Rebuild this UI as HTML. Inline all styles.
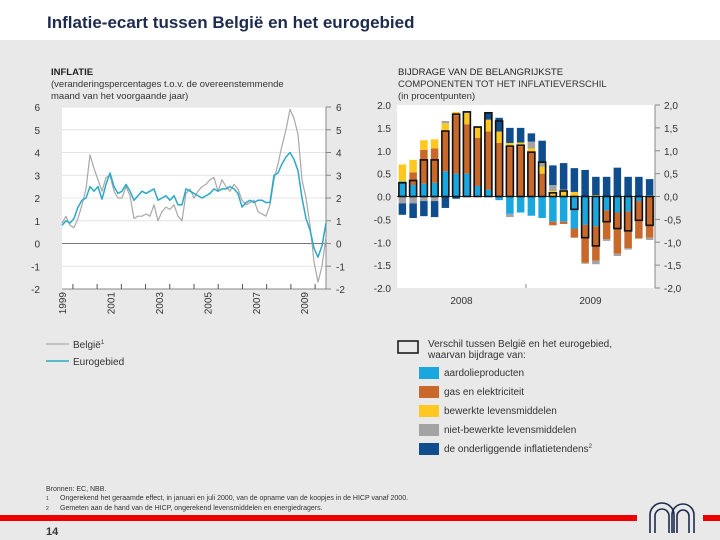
<!DOCTYPE html>
<html><head><meta charset="utf-8"><style>
body{margin:0;background:#fff;}
#root{position:relative;width:720px;height:540px;background:#e9e9e9;overflow:hidden;font-family:"Liberation Sans",sans-serif;}
svg text{font-family:"Liberation Sans",sans-serif;}
</style></head><body>
<div id="root">
<svg id="svg" width="720" height="540" viewBox="0 0 720 540">
<rect x="0" y="0" width="720" height="40" fill="#ffffff"/>
<text x="47" y="28" font-size="17" font-weight="bold" fill="#1c2b4e">Inflatie-ecart tussen België en het eurogebied</text>
<text x="51" y="75" font-size="9.5" font-weight="bold" fill="#222">INFLATIE</text>
<text x="51" y="87" font-size="9.5" fill="#333">(veranderingspercentages t.o.v. de overeenstemmende</text>
<text x="51" y="99" font-size="9.5" fill="#333">maand van het voorgaande jaar)</text>
<text x="398" y="75" font-size="9.5" fill="#222">BIJDRAGE VAN DE BELANGRIJKSTE</text>
<text x="398" y="87" font-size="9.5" fill="#333">COMPONENTEN TOT  HET INFLATIEVERSCHIL</text>
<text x="398" y="99" font-size="9.5" fill="#333">(in procentpunten)</text>
<g id="left"></g>
<g id="right"></g>
<g>
<line x1="46" y1="344" x2="69" y2="344" stroke="#aaa" stroke-width="1.3"/>
<text x="73" y="348" font-size="10" fill="#333">België<tspan font-size="6" dy="-4">1</tspan></text>
<line x1="46" y1="361" x2="69" y2="361" stroke="#2aa8c8" stroke-width="1.5"/>
<text x="73" y="365" font-size="10" fill="#333">Eurogebied</text>
</g>
<g>
<rect x="398" y="341" width="20" height="12" fill="none" stroke="#111" stroke-width="1.5"/>
<text x="428" y="347" font-size="10" fill="#333">Verschil tussen België en het eurogebied,</text>
<text x="428" y="358" font-size="10" fill="#333">waarvan bijdrage van:</text>
<rect x="419" y="367" width="20" height="12" fill="#1aa7e0"/>
<text x="444" y="376" font-size="10" fill="#333">aardolieproducten</text>
<rect x="419" y="386" width="20" height="12" fill="#c8682a"/>
<text x="444" y="395" font-size="10" fill="#333">gas en elektriciteit</text>
<rect x="419" y="405" width="20" height="12" fill="#ffc820"/>
<text x="444" y="414" font-size="10" fill="#333">bewerkte levensmiddelen</text>
<rect x="419" y="424" width="20" height="12" fill="#a3a3a3"/>
<text x="444" y="433" font-size="10" fill="#333">niet-bewerkte levensmiddelen</text>
<rect x="419" y="443" width="20" height="12" fill="#0f4d8c"/>
<text x="444" y="452" font-size="10" fill="#333">de onderliggende inflatietendens<tspan font-size="6" dy="-4">2</tspan></text>
</g>
<g fill="#333" font-size="7">
<text x="46" y="491">Bronnen:  EC, NBB.</text>
<text x="46" y="500" font-size="5">1</text>
<text x="60" y="500">Ongerekend het geraamde effect, in januari en juli 2000, van de opname van de koopjes in de HICP vanaf 2000.</text>
<text x="46" y="510" font-size="5">2</text>
<text x="60" y="510">Gemeten aan de hand van de HICP, ongerekend levensmiddelen en energiedragers.</text>
</g>
<rect x="0" y="515" width="637" height="6" fill="#ee0000"/>
<rect x="703" y="515" width="17" height="6" fill="#ee0000"/>
<g fill="none" stroke="#1c2b4e" stroke-width="1.6">
<path d="M650 533 V515 a12 12 0 0 1 24 0 V533"/>
<path d="M655 533 V516 a7 7 0 0 1 14 0 V533"/>
<path d="M672 533 V515 a11 11 0 0 1 22 0 V533"/>
<path d="M677 533 V516 a6 6 0 0 1 12 0 V533"/>
</g>
<text x="46" y="535" font-size="11" font-weight="bold" fill="#333">14</text>
</svg>
</div>
<script>
// ---- left chart data (bimonthly readings, Jan 1999 - late 2009) ----
const belgie = [0.9,1.2,0.8,0.7,1.1,1.7,2.4,3.9,3.3,2.8,2.3,2.9,3.0,2.3,2.0,2.0,2.5,2.1,1.1,1.2,1.2,1.3,1.2,1.7,1.0,1.4,1.6,1.5,1.7,1.2,1.0,2.2,2.4,2.0,2.3,2.5,2.6,2.8,2.9,2.3,2.8,2.5,2.3,2.6,2.4,1.9,1.7,1.8,1.9,1.4,1.3,1.2,1.7,2.8,3.5,4.3,5.0,5.9,5.5,4.8,2.8,2.0,0.8,-0.8,-1.7,-1.0,0.3];
const eurogebied = [0.8,1.0,0.9,1.1,1.6,1.9,2.0,2.5,2.3,2.5,1.95,2.6,3.1,2.5,2.2,2.3,2.6,2.3,1.9,2.1,2.3,2.2,2.3,2.4,1.9,2.0,2.1,1.9,2.1,1.7,1.7,2.4,2.3,2.2,2.1,2.0,2.1,2.2,2.4,2.3,2.4,2.4,2.5,2.4,2.2,1.6,1.8,1.9,1.8,1.9,1.9,1.8,1.8,3.0,3.1,3.5,3.8,4.0,3.7,3.2,2.0,1.1,0.6,-0.2,-0.6,-0.1,0.9];
const leftTicks = [-2,-1,0,1,2,3,4,5,6];
const yearLabels = ["1999","2001","2003","2005","2007","2009"];
const yearTicks = [1999,2000,2001,2002,2003,2004,2005,2006,2007,2008,2009];
// ---- right chart data (monthly, 2008-2009) ----
const months = ["2008-01","2008-02","2008-03","2008-04","2008-05","2008-06","2008-07","2008-08","2008-09","2008-10","2008-11","2008-12","2009-01","2009-02","2009-03","2009-04","2009-05","2009-06","2009-07","2009-08","2009-09","2009-10","2009-11","2009-12"];
const aardolie = [0.33,0.25,0.28,0.3,0.55,0.5,0.5,0.23,0.15,-0.08,-0.38,-0.35,-0.42,-0.47,-0.55,-0.55,-0.7,-0.62,-0.65,-0.3,-0.35,-0.33,-0.1,0.03];
const gasElek = [0,0.28,0.74,0.75,0.9,1.28,1.08,1.05,1.27,1.17,1.08,1.1,0.98,0.5,-0.08,-0.05,-0.2,-0.83,-0.75,-0.63,-0.9,-0.8,-0.82,-0.9];
const bewerkt = [0.37,0.27,0.21,0.2,0.15,0.07,0.24,0.22,0.26,0.25,0.09,0.08,0.07,0.15,0.12,0.12,0.1,0,0.03,0,0,0,0,0];
const onbewerkt = [-0.15,-0.15,-0.1,-0.1,0.05,0,0.03,0,0,0,-0.07,0,0.15,0.1,0.13,0.03,0,-0.02,-0.08,-0.04,-0.05,-0.03,0,-0.05];
const onderliggend = [-0.25,-0.32,-0.33,-0.35,-0.25,-0.05,0,0.02,0.16,0.3,0.33,0.32,0.18,0.47,0.43,0.58,0.52,0.58,0.4,0.43,0.63,0.43,0.43,0.35];
const verschil = [0.3,0.35,0.8,0.8,1.43,1.8,1.85,1.52,1.83,1.65,1.1,1.12,0.97,0.75,0.08,0.12,-0.28,-0.9,-1.08,-0.55,-0.7,-0.75,-0.52,-0.63];
const rightTicks = [-2,-1.5,-1,-0.5,0,0.5,1,1.5,2];
const rightYears = ["2008","2009"];

const NS="http://www.w3.org/2000/svg";
function mk(parent,tag,attrs){const e=document.createElementNS(NS,tag);for(const k in attrs)e.setAttribute(k,attrs[k]);parent.appendChild(e);return e;}

// ---- left chart ----
const L=document.getElementById('left');
const lx0=62,lx1=326,ly0=107,ly1=289;
const ly=v=>ly1-(v-(-2))/8*(ly1-ly0);
const lxi=i=>lx0+i*(lx1-lx0)/(belgie.length-1);
const lxYear=y=>lx0+(y-1999)*(lx1-lx0)/10.9;
const lbg=mk(L,'rect',{x:lx0,y:ly0,width:lx1-lx0,height:ly1-ly0,fill:'#fff'});


leftTicks.forEach(t=>{
  const g=mk(L,'line',{x1:lx0,x2:lx1,y1:ly(t),y2:ly(t),stroke:t===0?'#777':'#e4e4e4','stroke-width':1});
  
  
  const a=mk(L,'text',{x:40,y:ly(t)+4,'font-size':10,fill:'#333','text-anchor':'end'});a.textContent=t;
  
  
  const b=mk(L,'text',{x:336,y:ly(t)+4,'font-size':10,fill:'#333'});b.textContent=t;
  
  
  const tk=mk(L,'line',{x1:lx1,x2:lx1+5,y1:ly(t),y2:ly(t),stroke:'#888'});
  
  
});
const lax=mk(L,'line',{x1:lx0,x2:lx1,y1:ly1,y2:ly1,stroke:'#888'});


const lax2=mk(L,'line',{x1:lx1,x2:lx1,y1:ly0,y2:ly1,stroke:'#888'});


yearTicks.forEach(y=>{
  const t=mk(L,'line',{x1:lxYear(y+0.45),x2:lxYear(y+0.45),y1:ly1,y2:ly1-5,stroke:'#555'});
  
  
});
yearLabels.forEach(s=>{
  const x=lxYear(+s)+4;
  const t=mk(L,'text',{x:x,y:ly1+3,'font-size':10,fill:'#333','text-anchor':'end',transform:`rotate(-90 ${x} ${ly1+3})`});
  t.textContent=s;
  
  
});
function line(arr,color,w,name){
  const p=mk(L,'polyline',{points:arr.map((v,i)=>lxi(i)+','+ly(v)).join(' '),fill:'none',stroke:color,'stroke-width':w,'stroke-linejoin':'round'});
  
  
}
line(belgie,'#a8a8a8',1.2,'belgie-line');
line(eurogebied,'#2aa8c8',1.5,'eurogebied-line');

// ---- right chart ----
const R=document.getElementById('right');
const rx0=397,rx1=655,ry0=105,ry1=288;
const ry=v=>ry1-(v+2)/4*(ry1-ry0);
const slot=(rx1-rx0)/months.length;
const rbg=mk(R,'rect',{x:rx0,y:ry0,width:rx1-rx0,height:ry1-ry0,fill:'#fff'});


rightTicks.forEach(t=>{
  const s=t.toFixed(1);
  const a=mk(R,'text',{x:391,y:ry(t)+4,'font-size':10,fill:'#333','text-anchor':'end'});a.textContent=s;
  
  
  const b=mk(R,'text',{x:664,y:ry(t)+4,'font-size':10,fill:'#333'});b.textContent=s.replace('.',',');
  
  
  const tk=mk(R,'line',{x1:rx1,x2:rx1+5,y1:ry(t),y2:ry(t),stroke:'#888'});
  
  
});
const rax=mk(R,'line',{x1:rx1,x2:rx1,y1:ry0,y2:ry1,stroke:'#888'});


const rsep=mk(R,'line',{x1:rx0+12*slot,x2:rx0+12*slot,y1:ry1,y2:ry1-4,stroke:'#888'});


rightYears.forEach((s,i)=>{
  const t=mk(R,'text',{x:rx0+(6+12*i)*slot,y:ry1+16,'font-size':10,fill:'#333','text-anchor':'middle'});
  t.textContent=s;
  
  
});
const series=[[aardolie,'#1aa7e0','aardolie'],[gasElek,'#c8682a','gas'],[bewerkt,'#ffc820','bewerkt'],[onbewerkt,'#a3a3a3','onbewerkt'],[onderliggend,'#0f4d8c','onderliggend']];
months.forEach((m,i)=>{
  const cx=rx0+(i+0.5)*slot,bw=7.5;
  let pos=0,neg=0;
  series.forEach(([arr,col,nm])=>{
    const v=arr[i];if(!v)return;
    let a,b;
    if(v>0){a=pos;b=pos+v;pos=b;}else{a=neg;b=neg+v;neg=b;}
    const r=mk(R,'rect',{x:cx-bw/2,y:Math.min(ry(a),ry(b)),width:bw,height:Math.abs(ry(a)-ry(b)),fill:col});
    
    
  });
});
const zl=mk(R,'line',{x1:rx0,x2:rx1,y1:ry(0),y2:ry(0),stroke:'#333','stroke-width':1});


months.forEach((m,i)=>{
  const cx=rx0+(i+0.5)*slot,bw=7;
  const v=verschil[i];
  const r=mk(R,'rect',{x:cx-bw/2,y:Math.min(ry(0),ry(v)),width:bw,height:Math.max(1.5,Math.abs(ry(0)-ry(v))),fill:'none',stroke:'#111','stroke-width':1.6});
  
  
});
</script>
</body></html>
